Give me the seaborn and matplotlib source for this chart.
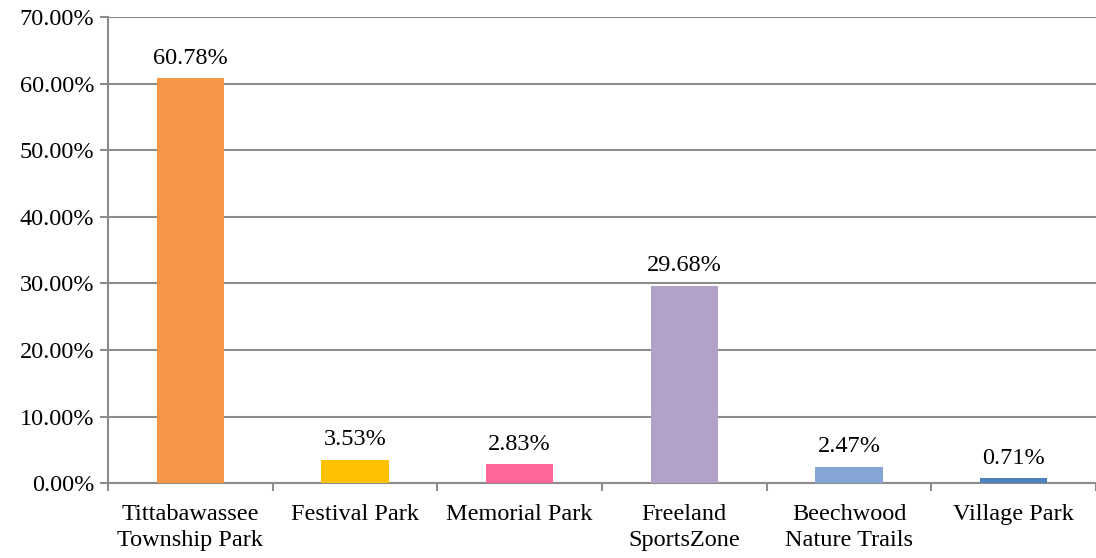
import matplotlib
matplotlib.use('Agg')
import matplotlib.pyplot as plt
from matplotlib.ticker import FixedLocator, FuncFormatter
import seaborn as sns
import pandas as pd

parks = ['Tittabawassee\nTownship Park', 'Festival Park', 'Memorial Park',
         'Freeland\nSportsZone', 'Beechwood\nNature Trails', 'Village Park']
shares = [60.78, 3.53, 2.83, 29.68, 2.47, 0.71]
colors = ['#F79646', '#FFC000', '#FF6699', '#B3A2C7', '#85A6D4', '#4F81BD']

sns.set_style('white')
plt.rcParams['font.family'] = ['Liberation Serif', 'DejaVu Serif']
plt.rcParams['text.color'] = 'black'
plt.rcParams['xtick.labelcolor'] = 'black'
plt.rcParams['ytick.labelcolor'] = 'black'

df = pd.DataFrame({'park': parks, 'share': shares})

fig = plt.figure(figsize=(10.96, 5.58), dpi=100)
ax = fig.add_axes([0.0985, 0.134, 0.9015, 0.8355])

sns.barplot(data=df, x='park', y='share', hue='park', palette=colors,
            width=0.41, legend=False, saturation=1, linewidth=0,
            edgecolor='none', ax=ax, zorder=3)

for cont in ax.containers:
    ax.bar_label(cont, fmt='%.2f%%', padding=7, fontsize=17.5, color='black')

ax.set_ylim(0, 70)
ax.set_xlim(-0.5, 5.5)
ax.set_yticks(range(0, 71, 10))
ax.yaxis.set_major_formatter(FuncFormatter(lambda v, p: f'{v:.2f}%'))
ax.yaxis.grid(True, color='#8c8c8c', linewidth=1.5, zorder=0)
ax.set_axisbelow(True)

ax.xaxis.set_minor_locator(FixedLocator([i - 0.5 for i in range(7)]))
ax.tick_params(axis='x', which='major', length=0, pad=15, labelsize=17.5)
ax.tick_params(axis='x', which='minor', length=6, color='#8c8c8c', width=1.5, direction='out')
ax.tick_params(axis='y', length=6, color='#8c8c8c', width=1.5, direction='out',
               labelsize=17.5, pad=4)
ax.xaxis.set_ticks_position('bottom')
ax.yaxis.set_ticks_position('left')
for lbl in ax.get_xticklabels():
    lbl.set_linespacing(1.3)

for s in ['top', 'right']:
    ax.spines[s].set_visible(False)
for s in ['left', 'bottom']:
    ax.spines[s].set_color('#8c8c8c')
    ax.spines[s].set_linewidth(1.5)

ax.set_xlabel('')
ax.set_ylabel('')

fig.savefig('out.png', dpi=100)
